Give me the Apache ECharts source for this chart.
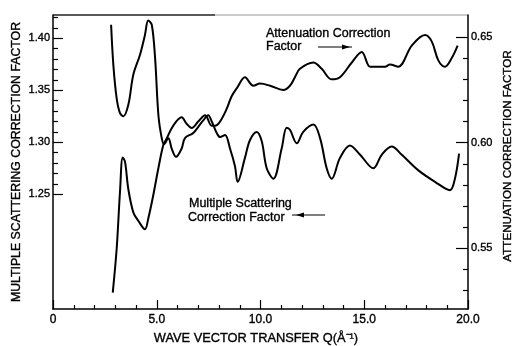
<!DOCTYPE html>
<html><head><meta charset="utf-8">
<script src="https://cdn.jsdelivr.net/npm/echarts@6/dist/echarts.min.js"></script>
<style>html,body{margin:0;padding:0;background:#fff}#c{width:518px;height:346px}</style>
</head><body><div id="c"></div>
<script>
// Multiple scattering correction factor (left axis)
const msQ = [2.80,2.91,3.07,3.23,3.39,3.63,3.87,4.19,4.43,4.59,4.76,4.92,5.08,5.24,5.35,5.56,5.72,5.93,6.20,6.36,6.76,7.08,7.24,7.48,7.65,7.89,8.05,8.29,8.53,8.77,8.90,9.25,9.49,9.82,10.06,10.30,10.62,11.02,11.26,11.42,11.75,12.06,12.55,12.87,13.19,13.43,13.83,14.31,14.80,15.44,15.84,16.32,16.81,17.61,18.41,19.13,19.37,19.57];
const msVal = [1.413,1.374,1.342,1.328,1.325,1.336,1.365,1.384,1.403,1.417,1.413,1.381,1.326,1.304,1.298,1.304,1.294,1.286,1.294,1.304,1.309,1.317,1.321,1.326,1.320,1.309,1.305,1.307,1.294,1.277,1.262,1.285,1.302,1.310,1.301,1.275,1.265,1.294,1.314,1.312,1.299,1.310,1.317,1.304,1.275,1.265,1.285,1.297,1.288,1.275,1.288,1.296,1.288,1.273,1.262,1.254,1.265,1.289];
// Attenuation correction factor (right axis)
const attQ = [2.88,3.07,3.23,3.36,3.47,3.63,3.87,4.11,4.43,4.59,4.83,5.08,5.32,5.48,5.79,6.20,6.44,6.68,7.00,7.33,7.65,7.81,8.05,8.37,8.61,8.87,9.25,9.65,9.98,10.46,11.10,11.42,11.66,11.90,12.55,12.95,13.43,13.83,14.40,14.88,15.28,15.60,16.00,16.24,16.64,17.29,17.93,18.25,18.57,18.89,19.21,19.50];
const attVal = [0.529,0.550,0.577,0.593,0.591,0.578,0.567,0.563,0.559,0.564,0.575,0.588,0.599,0.602,0.608,0.612,0.609,0.607,0.610,0.613,0.608,0.608,0.610,0.616,0.622,0.626,0.631,0.627,0.628,0.627,0.625,0.627,0.631,0.635,0.638,0.635,0.630,0.631,0.638,0.643,0.636,0.636,0.636,0.637,0.636,0.646,0.651,0.648,0.639,0.636,0.640,0.646];
const xTickLabels = ['0','5.0','10.0','15.0','20.0'];
const leftMajor = [1.25,1.30,1.35,1.40];
const leftMinor = [1.26,1.27,1.28,1.29,1.31,1.32,1.33,1.34,1.36,1.37,1.38,1.39,1.41,1.42];
const rightMajor = [0.55,0.60,0.65];
const rightMinor = [0.53,0.54,0.56,0.57,0.58,0.59,0.61,0.62,0.63,0.64];

const FONT = 'Liberation Sans, Arial, sans-serif';
const chart = echarts.init(document.getElementById('c'), null, {renderer:'canvas'});
const zip = (a,b) => a.map((v,i)=>[v,b[i]]);
const black = '#000';
function yAx(pos, min, max, vals, len, showLabel, fmt){
  return {
    type:'value', position:pos, min:min, max:max, offset:0,
    axisLine:{show:showLabel, lineStyle:{color:black,width:1.5}},
    axisTick:{show:true, inside:true, length:len, customValues:vals, lineStyle:{color:black,width:1.2}},
    axisLabel:{show:showLabel, customValues:vals, formatter:fmt, margin:3, color:'#000', fontSize:11, fontFamily:FONT, textBorderColor:'#000', textBorderWidth:0.35},
    splitLine:{show:false}
  };
}
function txt(x, y, s, size, align, rot){
  return {type:'text', x:x, y:y, rotation:rot||0, style:{text:s, font:size+'px '+FONT, fill:'#000', stroke:'#000', lineWidth:0.35, align:align, verticalAlign:'middle', textAlign:align, textVerticalAlign:'middle'}};
}
chart.setOption({
  animation:false,
  backgroundColor:'#fff',
  grid:{left:53,right:50,top:15,bottom:37,containLabel:false,outerBoundsMode:'none'},
  xAxis:{
    type:'value', min:0, max:20, interval:5,
    axisLine:{lineStyle:{color:black,width:1.5}},
    axisTick:{inside:true,length:9,lineStyle:{color:black,width:1.2}},
    minorTick:{show:true,splitNumber:5,length:4,lineStyle:{color:black,width:1.2}},
    axisLabel:{formatter:(v)=>xTickLabels[Math.round(v/5)], margin:5, color:'#000', fontSize:12, fontFamily:FONT, textBorderColor:'#000', textBorderWidth:0.35},
    splitLine:{show:false}
  },
  yAxis:[
    yAx('left',1.1397,1.4224,leftMajor,10,true,(v)=>v.toFixed(2)),
    yAx('left',1.1397,1.4224,leftMinor,5,false,null),
    yAx('right',0.5212,0.6605,rightMajor,12,true,(v)=>v.toFixed(2)),
    yAx('right',0.5212,0.6605,rightMinor,5,false,null)
  ],
  series:[
    {type:'line', name:'Multiple Scattering Correction Factor', yAxisIndex:0, data:zip(msQ,msVal), showSymbol:false, smooth:0.35, lineStyle:{color:black,width:2}},
    {type:'line', name:'Attenuation Correction Factor', yAxisIndex:2, data:zip(attQ,attVal), showSymbol:false, smooth:0.35, lineStyle:{color:black,width:2}}
  ],
  graphic:[
    {type:'line', shape:{x1:53,y1:15,x2:215,y2:15}, style:{stroke:'#222',lineWidth:1.5}},
    {type:'line', shape:{x1:215,y1:15,x2:468,y2:15}, style:{stroke:'#999',lineWidth:1}},
    txt(17, 162, 'MULTIPLE SCATTERING CORRECTION FACTOR', 12.3, 'center', Math.PI/2),
    txt(508, 156, 'ATTENUATION CORRECTION FACTOR', 11.6, 'center', Math.PI/2),
    txt(256, 338, 'WAVE VECTOR TRANSFER Q(\u00C5\u207B\u00B9)', 12.8, 'center', 0),
    txt(266, 34, 'Attenuation Correction', 12.5, 'left', 0),
    txt(266, 47, 'Factor', 12.5, 'left', 0),
    {type:'line', shape:{x1:318,y1:47,x2:352,y2:47}, style:{stroke:'#000',lineWidth:1.2}},
    {type:'polygon', shape:{points:[[350,47],[342,44.5],[342,49.5]]}, style:{fill:'#000'}},
    txt(189, 204, 'Multiple Scattering', 12.5, 'left', 0),
    txt(188, 218, 'Correction Factor', 12.5, 'left', 0),
    {type:'line', shape:{x1:292,y1:215,x2:325,y2:215}, style:{stroke:'#000',lineWidth:1.2}},
    {type:'polygon', shape:{points:[[296,215],[304,212.5],[304,217.5]]}, style:{fill:'#000'}}
  ]
});
</script></body></html>
